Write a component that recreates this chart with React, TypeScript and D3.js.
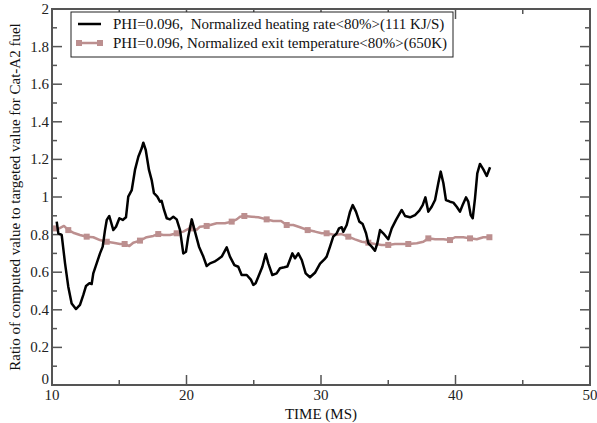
import * as d3 from 'd3'

// heating rate series (time ms, ratio)
const heatTime = [10.35, 10.47, 10.72, 10.97, 11.21, 11.46, 11.78, 12.08, 12.33, 12.53, 12.78, 12.95, 13.07, 13.32, 13.57, 13.77, 13.94, 14.07, 14.26, 14.56, 14.76, 15.01, 15.26, 15.5, 15.67, 15.93, 16.17, 16.42, 16.67, 16.79, 16.97, 17.21, 17.41, 17.58, 17.83, 18.03, 18.15, 18.33, 18.53, 18.77, 19.02, 19.27, 19.52, 19.76, 19.96, 20.13, 20.39, 20.63, 20.93, 21.25, 21.5, 21.75, 22.07, 22.32, 22.62, 22.99, 23.23, 23.56, 23.85, 24.1, 24.48, 24.8, 24.97, 25.14, 25.34, 25.64, 25.89, 26.08, 26.38, 26.7, 26.95, 27.27, 27.5, 27.87, 28.07, 28.31, 28.57, 28.86, 29.18, 29.55, 29.93, 30.25, 30.42, 30.67, 30.91, 31.17, 31.34, 31.54, 31.66, 31.91, 32.16, 32.36, 32.6, 32.85, 33.1, 33.35, 33.52, 33.77, 34.01, 34.19, 34.39, 34.63, 35.0, 35.26, 35.58, 36.0, 36.25, 36.62, 36.99, 37.31, 37.56, 37.76, 37.98, 38.23, 38.48, 38.72, 38.9, 39.1, 39.29, 39.59, 39.84, 40.09, 40.33, 40.53, 40.78, 40.95, 41.13, 41.28, 41.45, 41.62, 41.82, 42.07, 42.32, 42.57]
const heatRatio = [0.869, 0.807, 0.798, 0.647, 0.523, 0.434, 0.404, 0.426, 0.479, 0.527, 0.541, 0.537, 0.594, 0.647, 0.7, 0.736, 0.824, 0.878, 0.899, 0.824, 0.842, 0.887, 0.878, 0.892, 1.002, 1.037, 1.144, 1.214, 1.259, 1.289, 1.25, 1.144, 1.09, 1.02, 1.002, 0.975, 0.98, 0.931, 0.887, 0.881, 0.895, 0.881, 0.824, 0.7, 0.709, 0.789, 0.881, 0.816, 0.736, 0.683, 0.633, 0.647, 0.656, 0.668, 0.683, 0.732, 0.683, 0.638, 0.629, 0.585, 0.585, 0.559, 0.532, 0.541, 0.576, 0.629, 0.697, 0.647, 0.585, 0.594, 0.621, 0.626, 0.63, 0.7, 0.674, 0.7, 0.665, 0.594, 0.573, 0.597, 0.645, 0.668, 0.683, 0.736, 0.789, 0.807, 0.833, 0.839, 0.815, 0.851, 0.922, 0.957, 0.922, 0.869, 0.856, 0.807, 0.754, 0.736, 0.714, 0.754, 0.824, 0.807, 0.775, 0.833, 0.878, 0.931, 0.899, 0.892, 0.904, 0.927, 0.957, 0.998, 0.922, 0.948, 0.984, 1.073, 1.135, 1.073, 0.984, 0.975, 0.97, 0.948, 0.922, 0.957, 0.998, 0.975, 0.904, 0.887, 0.993, 1.126, 1.176, 1.147, 1.112, 1.158]

// exit temperature series
const exitTime = [10.22, 10.47, 10.89, 11.21, 11.58, 12.08, 12.58, 13.07, 13.57, 14.07, 14.56, 15.06, 15.4, 15.75, 16.04, 16.54, 17.04, 17.53, 17.9, 18.28, 18.77, 19.27, 19.76, 20.21, 20.39, 20.75, 21.0, 21.5, 22.24, 22.86, 23.36, 23.73, 23.98, 24.3, 24.85, 25.34, 25.96, 26.45, 27.03, 27.45, 27.94, 28.44, 29.01, 29.55, 30.05, 30.42, 31.04, 31.54, 32.03, 32.53, 33.03, 33.52, 34.01, 34.51, 35.0, 35.5, 36.0, 36.49, 37.12, 37.61, 37.98, 38.48, 39.1, 39.59, 39.96, 40.58, 41.08, 41.58, 42.07, 42.52]
const exitRatio = [0.833, 0.83, 0.846, 0.824, 0.81, 0.798, 0.789, 0.786, 0.771, 0.762, 0.757, 0.75, 0.75, 0.739, 0.757, 0.768, 0.786, 0.793, 0.803, 0.798, 0.798, 0.807, 0.816, 0.833, 0.833, 0.825, 0.842, 0.846, 0.86, 0.86, 0.869, 0.881, 0.895, 0.899, 0.895, 0.892, 0.881, 0.872, 0.872, 0.851, 0.851, 0.839, 0.824, 0.816, 0.807, 0.807, 0.798, 0.803, 0.789, 0.775, 0.762, 0.757, 0.75, 0.745, 0.745, 0.75, 0.75, 0.75, 0.754, 0.762, 0.78, 0.775, 0.775, 0.771, 0.786, 0.786, 0.78, 0.775, 0.786, 0.786]

const xMajor = [10, 20, 30, 40, 50]
const xMinor = [15, 25, 35, 45]
const yMajor = [0, 0.2, 0.4, 0.6, 0.8, 1, 1.2, 1.4, 1.6, 1.8, 2]
const yMinor = [0.1, 0.3, 0.5, 0.7, 0.9, 1.1, 1.3, 1.5, 1.7, 1.9]
const legendLabels = [
  'PHI=0.096,  Normalized heating rate<80%>(111 KJ/S)',
  'PHI=0.096, Normalized exit temperature<80%>(650K)',
]

const W = 597
const H = 423
const left = 52
const right = 590
const top = 9
const bottom = 385
const axisColor = '#555'
const pink = '#bc8f8f'
const font = 'Liberation Serif, DejaVu Serif, Times New Roman, serif'

const App = () => {
  const x = d3.scaleLinear().domain([10, 50]).range([left, right])
  const y = d3.scaleLinear().domain([0, 2]).range([bottom, top])

  const heat = heatTime.map((t, i) => [t, heatRatio[i]] as [number, number])
  const exit = exitTime.map((t, i) => [t, exitRatio[i]] as [number, number])
  const line = d3
    .line<[number, number]>()
    .x(d => x(d[0]))
    .y(d => y(d[1]))

  const markers = exit.filter((_, i) => i % 3 === 0 || i === exit.length - 1)

  return (
    <svg
      width={W}
      height={H}
      style={{ position: 'absolute', left: 0, top: 0, display: 'block', background: '#fff', fontFamily: font }}
    >
      <defs>
        <clipPath id="plot">
          <rect x={left} y={top} width={right - left} height={bottom - top} />
        </clipPath>
      </defs>

      {/* ticks, inward on all four sides */}
      <g stroke={axisColor} strokeWidth={1.5}>
        {xMajor.map(v => (
          <g key={'xM' + v}>
            <line x1={x(v)} x2={x(v)} y1={bottom} y2={bottom - 10} />
            <line x1={x(v)} x2={x(v)} y1={top} y2={top + 10} />
          </g>
        ))}
        {xMinor.map(v => (
          <g key={'xm' + v}>
            <line x1={x(v)} x2={x(v)} y1={bottom} y2={bottom - 5} />
            <line x1={x(v)} x2={x(v)} y1={top} y2={top + 5} />
          </g>
        ))}
        {yMajor.map(v => (
          <g key={'yM' + v}>
            <line x1={left} x2={left + 10} y1={y(v)} y2={y(v)} />
            <line x1={right} x2={right - 10} y1={y(v)} y2={y(v)} />
          </g>
        ))}
        {yMinor.map(v => (
          <g key={'ym' + v}>
            <line x1={left} x2={left + 5} y1={y(v)} y2={y(v)} />
            <line x1={right} x2={right - 5} y1={y(v)} y2={y(v)} />
          </g>
        ))}
      </g>

      {/* data */}
      <g clipPath="url(#plot)">
        <path d={line(exit) || ''} fill="none" stroke={pink} strokeWidth={2.5} strokeLinejoin="round" />
        {markers.map((d, i) => (
          <rect key={i} x={x(d[0]) - 3} y={y(d[1]) - 3} width={6} height={6} fill={pink} />
        ))}
        <path d={line(heat) || ''} fill="none" stroke="#000" strokeWidth={2.5} strokeLinejoin="round" />
      </g>

      {/* frame */}
      <rect x={left} y={top} width={right - left} height={bottom - top} fill="none" stroke={axisColor} strokeWidth={2} />

      {/* tick labels */}
      <g fontSize={15} fill="#222">
        {xMajor.map(v => (
          <text key={'xl' + v} x={x(v)} y={bottom + 15} textAnchor="middle">
            {v}
          </text>
        ))}
        {yMajor.map(v => (
          <text key={'yl' + v} x={left - 3} y={y(v) + (v === 0 ? -1 : 5)} textAnchor="end">
            {String(v)}
          </text>
        ))}
      </g>

      {/* axis titles */}
      <text x={(left + right) / 2} y={419} textAnchor="middle" fontSize={15} fill="#111">
        TIME (MS)
      </text>
      <text
        transform={`translate(20, ${(top + bottom) / 2}) rotate(-90)`}
        textAnchor="middle"
        fontSize={15}
        fill="#111"
      >
        Ratio of computed value to targeted value for Cat-A2 fuel
      </text>

      {/* legend */}
      <g>
        <rect x={71} y={12} width={382} height={45} fill="#fff" stroke="#222" strokeWidth={1} />
        <line x1={78} x2={101} y1={24} y2={24} stroke="#000" strokeWidth={2.5} />
        <line x1={78} x2={101} y1={43} y2={43} stroke={pink} strokeWidth={2.5} />
        <rect x={76} y={40} width={6} height={6} fill={pink} />
        <rect x={97} y={40} width={6} height={6} fill={pink} />
        {legendLabels.map((s, i) => (
          <text key={i} x={113} y={29 + i * 19} fontSize={15} fill="#111" style={{ whiteSpace: 'pre' }}>
            {s}
          </text>
        ))}
      </g>
    </svg>
  )
}

export default App
